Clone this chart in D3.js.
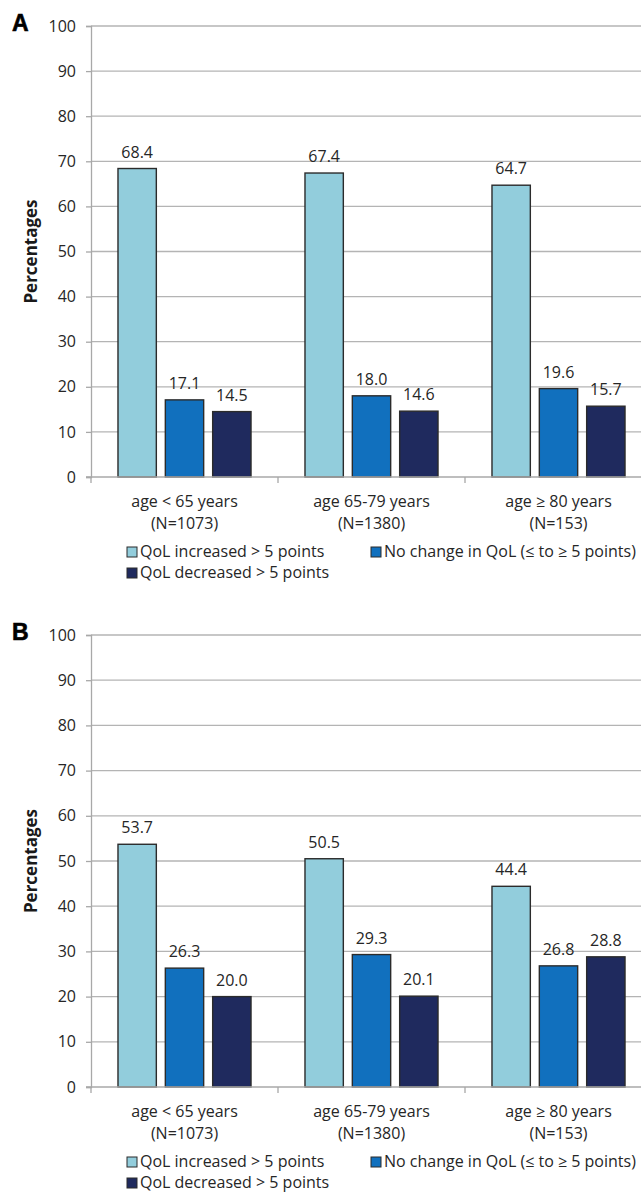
<!DOCTYPE html>
<html>
<head>
<meta charset="utf-8">
<script src="https://cdn.jsdelivr.net/npm/d3@7"></script>
<style>
  body { margin: 0; background: #fff; }
  svg { display: block; font-family: 'Open Sans', sans-serif; }
</style>
</head>
<body>
<svg id="chart" width="641" height="1193"></svg>
<script>
// QoL change by age group, panels A and B

var categories = ['age < 65 years', 'age 65-79 years', 'age \u2265 80 years']
var groupSizes = ['(N=1073)', '(N=1380)', '(N=153)']
var seriesNames = ['QoL increased > 5 points', 'No change in QoL (\u2264 to \u2265 5 points)', 'QoL decreased > 5 points']
var yTicks = [0, 10, 20, 30, 40, 50, 60, 70, 80, 90, 100]

var panelAIncreased = [68.4, 67.4, 64.7]
var panelANoChange = [17.1, 18.0, 19.6]
var panelADecreased = [14.5, 14.6, 15.7]

var panelBIncreased = [53.7, 50.5, 44.4]
var panelBNoChange = [26.3, 29.3, 26.8]
var panelBDecreased = [20.0, 20.1, 28.8]

var colors = ['#92cddc', '#1170be', '#1f2a5e']

var svg = d3.select('#chart')

function drawPanel(letter, top, bottom, values) {
	var g = svg.append('g')

	var x = d3.scaleBand().domain(categories).range([91, 652])
	var xs = d3.scaleBand().domain(d3.range(3))
		.range([0, x.bandwidth()]).paddingInner(0.19).paddingOuter(0.57)
	var y = d3.scaleLinear().domain([0, 100]).range([bottom, top])

	// gridlines
	g.append('g').selectAll('line').data(yTicks.slice(1)).enter().append('line')
		.attr('x1', 91).attr('x2', 652)
		.attr('y1', function(d) { return y(d) }).attr('y2', function(d) { return y(d) })
		.attr('stroke', '#b4b4b4').attr('stroke-width', 1.3)

	// y axis
	var yAxis = g.append('g').attr('transform', 'translate(91,0)')
		.call(d3.axisLeft(y).tickValues(yTicks).tickSize(5).tickPadding(10))
	yAxis.select('.domain').attr('stroke', '#a8a8a8').attr('stroke-width', 1.3)
	yAxis.selectAll('.tick line').attr('stroke', '#a8a8a8').attr('stroke-width', 1.3)
	yAxis.selectAll('.tick text').attr('font-size', 16).attr('fill', '#262626')
		.attr('font-family', "'Open Sans', sans-serif")

	// bars
	var rows = categories.map(function(c, i) {
		return { cat: c, vals: values.map(function(s) { return s[i] }) }
	})
	var groups = g.append('g').selectAll('g').data(rows).enter().append('g')
		.attr('transform', function(d) { return 'translate(' + x(d.cat) + ',0)' })

	groups.selectAll('rect').data(function(d) { return d.vals }).enter().append('rect')
		.attr('x', function(d, i) { return xs(i) })
		.attr('width', xs.bandwidth())
		.attr('y', function(d) { return y(d) })
		.attr('height', function(d) { return y(0) - y(d) })
		.attr('fill', function(d, i) { return colors[i] })
		.attr('stroke', '#2b2b2b').attr('stroke-width', 1.4)

	groups.selectAll('text').data(function(d) { return d.vals }).enter().append('text')
		.attr('x', function(d, i) { return xs(i) + xs.bandwidth() / 2 })
		.attr('y', function(d) { return y(d) - 11 })
		.attr('text-anchor', 'middle').attr('font-size', 16).attr('fill', '#262626')
		.text(function(d) { return d.toFixed(1) })

	// x axis
	var xAxis = g.append('g').attr('transform', 'translate(0,' + bottom + ')')
	xAxis.append('line').attr('x1', 86).attr('x2', 652)
		.attr('stroke', '#a8a8a8').attr('stroke-width', 1.3)
	xAxis.selectAll('line.sep').data(categories).enter().append('line')
		.attr('class', 'sep')
		.attr('x1', function(d) { return x(d) }).attr('x2', function(d) { return x(d) })
		.attr('y1', 0).attr('y2', 6)
		.attr('stroke', '#a8a8a8').attr('stroke-width', 1.3)

	var labels = xAxis.selectAll('text.cat').data(categories).enter().append('text')
		.attr('class', 'cat')
		.attr('x', function(d) { return x(d) + x.bandwidth() / 2 })
		.attr('text-anchor', 'middle').attr('font-size', 16).attr('fill', '#262626')
	labels.append('tspan').attr('x', function(d) { return x(d) + x.bandwidth() / 2 })
		.attr('y', 30).text(function(d) { return d })
	labels.append('tspan').attr('x', function(d) { return x(d) + x.bandwidth() / 2 })
		.attr('y', 52).text(function(d, i) { return groupSizes[i] })

	// y title
	g.append('text').text('Percentages')
		.attr('transform', 'translate(37,' + (top + bottom) / 2 + ') rotate(-90)')
		.attr('text-anchor', 'middle').attr('font-size', 17).attr('font-weight', 'bold')
		.attr('fill', '#1a1a1a')

	// panel letter
	g.append('text').text(letter)
		.attr('x', 12).attr('y', top + 5)
		.attr('font-family', "'Liberation Sans', Arial, sans-serif")
		.attr('font-size', 23).attr('font-weight', 'bold').attr('fill', '#000')
		.attr('stroke', '#000').attr('stroke-width', 0.6)

	// legend
	var legendPos = [[127, bottom + 75], [371, bottom + 75], [127, bottom + 96]]
	var legend = g.append('g').selectAll('g').data(seriesNames).enter().append('g')
		.attr('transform', function(d, i) { return 'translate(' + legendPos[i][0] + ',' + legendPos[i][1] + ')' })
	legend.append('rect').attr('x', 0).attr('y', -5).attr('width', 10).attr('height', 10)
		.attr('fill', function(d, i) { return colors[i] })
		.attr('stroke', '#2b2b2b').attr('stroke-width', 1)
	legend.append('text').attr('x', 13).attr('y', 5)
		.attr('font-size', 16).attr('fill', '#262626')
		.text(function(d) { return d })
}

drawPanel('A', 26, 477, [panelAIncreased, panelANoChange, panelADecreased])
drawPanel('B', 635, 1087, [panelBIncreased, panelBNoChange, panelBDecreased])
</script>
</body>
</html>
